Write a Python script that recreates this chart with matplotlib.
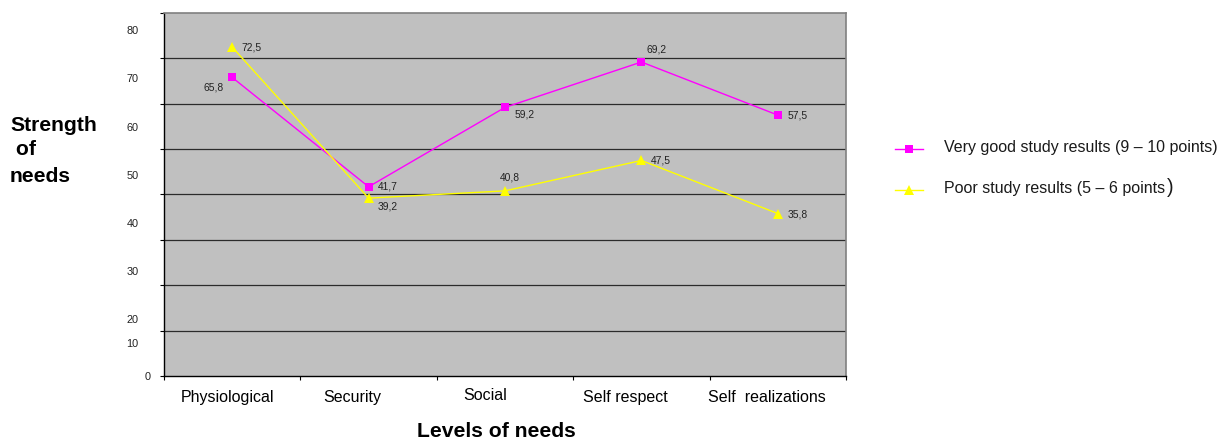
import matplotlib
matplotlib.use('Agg')
import matplotlib.pyplot as plt
from matplotlib.lines import Line2D

# ---- data ----
categories = ['Physiological', 'Security', 'Social', 'Self respect', 'Self  realizations']
very_good = [65.8, 41.7, 59.2, 69.2, 57.5]
poor = [72.5, 39.2, 40.8, 47.5, 35.8]
y_ticks = [0, 10, 20, 30, 40, 50, 60, 70, 80]
y_tick_labels = ['0', '10', '20', '30', '40', '50', '60', '70', '80']
series_names = ['Very good study results (9 – 10 points)',
                'Poor study results (5 – 6 points']

# ---- layout helpers (pixels) ----
W, H = 1222, 441
y_label_pos = [7.3, 12.6, 23.2, 33.8, 44.3, 54.8, 65.6, 76.2]   # where 10..80 labels sit
cat_shift = [-0.031, -0.123, -0.147, -0.119, -0.078]
cat_dy = [-25.7, -25.7, -23.5, -25.7, -25.7]
vg_offsets = [(-28.9, -12.6), (9.1, -3.2), (9.3, -9.9), (4.6, 9.7), (9.5, -3.2)]
poor_offsets = [(9.5, -3.0), (9.1, -10.9), (-5.0, 9.9), (9.6, -3.5), (9.9, -3.7)]

plt.rcParams['font.family'] = ['Liberation Sans', 'DejaVu Sans']

fig = plt.figure(figsize=(W / 100, H / 100), dpi=100)
ax = fig.add_axes([164 / W, 1 - 376 / H, 682 / W, 363 / H])
ax.set_facecolor('#c0c0c0')

xs = list(range(len(categories)))
ax.set_xlim(-0.5, len(categories) - 0.5)
ax.set_ylim(y_ticks[0], y_ticks[-1])

# horizontal gridlines
for yv in y_ticks[1:-1]:
    ax.axhline(yv, color='#2b2b2b', lw=0.9, zorder=1)

# frame
for side in ('top', 'right'):
    ax.spines[side].set_color('#808080')
    ax.spines[side].set_linewidth(1.2)
for side in ('left', 'bottom'):
    ax.spines[side].set_color('black')
    ax.spines[side].set_linewidth(1.0)

# x axis: tick marks between categories, names placed below
ax.set_xticks([i - 0.5 for i in range(len(categories) + 1)])
ax.tick_params(axis='x', which='major', direction='out', length=3, width=0.8,
               labelbottom=False, color='black')
for i, name in enumerate(categories):
    ax.annotate(name, xy=(xs[i] + cat_shift[i], 0), xycoords=('data', 'axes fraction'),
                xytext=(0, cat_dy[i]), textcoords='offset pixels',
                ha='center', va='baseline', fontsize=11.5, color='black',
                annotation_clip=False)

# y axis: tick marks on gridlines, labels on their own positions
ax.set_yticks(y_ticks, [y_tick_labels[0]] + [''] * (len(y_ticks) - 1))
ax.tick_params(axis='y', which='major', direction='out', length=3, width=0.8,
               pad=6.7, labelsize=7.8, labelcolor='#222222', color='black')
ax.set_yticks(y_label_pos, y_tick_labels[1:], minor=True)
ax.tick_params(axis='y', which='minor', length=0, pad=18.4, labelsize=7.8,
               labelcolor='#222222')

# series
ax.plot(xs, very_good, color='#ff00ff', lw=1.0, marker='s', ms=5.6,
        markeredgewidth=0, zorder=3)
ax.plot(xs, poor, color='#ffff00', lw=1.0, marker='^', ms=6.8,
        markeredgewidth=0, zorder=3)

def fmt(v):
    return f'{v:.1f}'.replace('.', ',')

for i, v in enumerate(very_good):
    ax.annotate(fmt(v), xy=(xs[i], v), xytext=vg_offsets[i], textcoords='offset pixels',
                ha='left', va='baseline', fontsize=7.4, color='#222222', zorder=4)
for i, v in enumerate(poor):
    ax.annotate(fmt(v), xy=(xs[i], v), xytext=poor_offsets[i], textcoords='offset pixels',
                ha='left', va='baseline', fontsize=7.4, color='#222222', zorder=4)

# axis titles
fig.text(10 / W, 1 - 131 / H, 'Strength', fontsize=15.2, fontweight='bold', va='baseline')
fig.text(10 / W, 1 - 155 / H, ' of', fontsize=15.2, fontweight='bold', va='baseline')
fig.text(10 / W, 1 - 181.7 / H, 'needs', fontsize=15.2, fontweight='bold', va='baseline')
fig.text(496 / W, 1 - 437 / H, 'Levels of needs', fontsize=15.2, fontweight='bold',
         ha='center', va='baseline')

# legend
legend_specs = [('#ff00ff', 's', 5.6, 149.3, 151.7), ('#ffff00', '^', 6.8, 190.0, 193.3)]
legend_texts = []
for name, (color, marker, ms, ly, base) in zip(series_names, legend_specs):
    fig.add_artist(Line2D([895 / W, 923 / W], [1 - ly / H] * 2, transform=fig.transFigure,
                          color=color, lw=1.0))
    fig.add_artist(Line2D([909 / W], [1 - ly / H], transform=fig.transFigure,
                          color=color, marker=marker, ms=ms, markeredgewidth=0, lw=0))
    legend_texts.append(fig.text(944 / W, 1 - base / H, name, fontsize=11.5,
                                 color='#1a1a1a', va='baseline'))

# the closing bracket of the second entry is set larger
fig.canvas.draw()
bb = legend_texts[1].get_window_extent(fig.canvas.get_renderer())
fig.text((bb.x1 + 1.5) / W, 1 - 193.3 / H, ')', fontsize=14.5, color='#1a1a1a',
         va='baseline')

fig.savefig('out.png', dpi=100)
